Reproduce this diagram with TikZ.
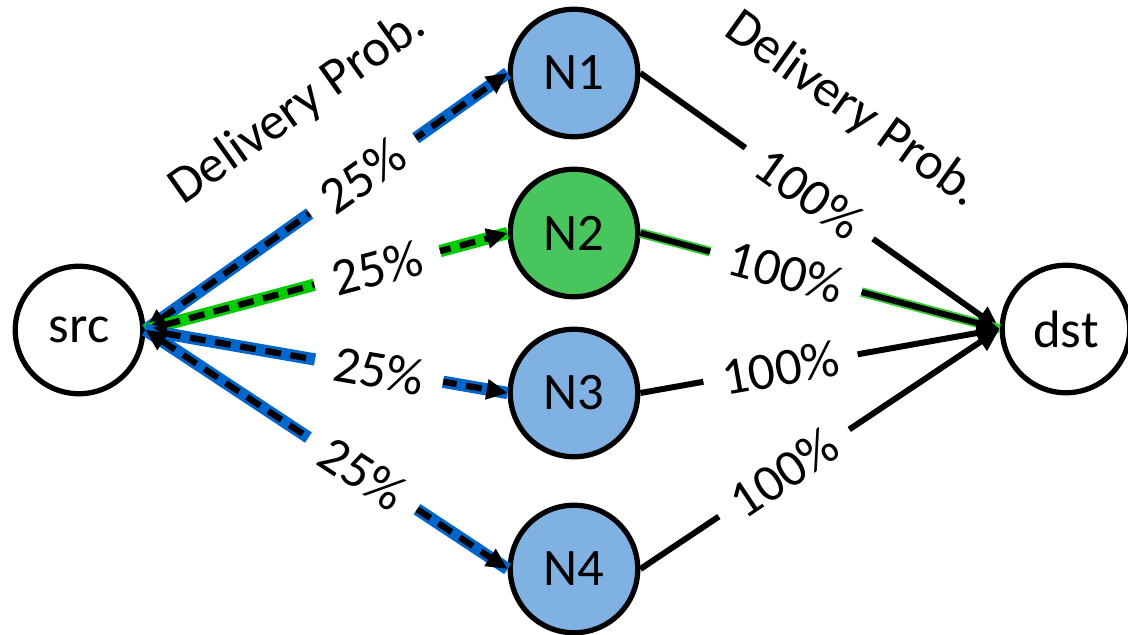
\documentclass[tikz,border=0pt]{standalone}
\usepackage{fontspec}
\setmainfont{Carlito}
\usetikzlibrary{arrows.meta}

\definecolor{nodeblue}{RGB}{127,178,227}
\definecolor{nodegreen}{RGB}{72,197,92}
\definecolor{pathblue}{RGB}{0,102,204}
\definecolor{pathgreen}{RGB}{0,204,0}
\definecolor{hopgreen}{RGB}{51,204,51}

\tikzset{
  peer/.style={circle,draw,line width=3pt,minimum size=2.55cm,inner sep=0pt},
  underlay/.style={draw=#1,line width=7pt},
  route/.style={line width=3.6pt,dash pattern=on 9pt off 5.5pt,
    {Triangle[length=12pt,width=11pt]}-{Triangle[length=12pt,width=11pt]}},
  hop/.style={line width=3.4pt,-{Triangle[length=13pt,width=12pt]}},
  prob/.style={fill=white,sloped,inner xsep=11pt,inner ysep=0pt},
}

\begin{document}
\begin{tikzpicture}
  \useasboundingbox (0,0) rectangle (22.56,12.7);
  \begin{scope}
    \fontsize{30}{34}\selectfont
    \node[peer] (src) at (1.58,6.10) {src};
    \node[peer] (dst) at (21.32,6.12) {dst};
    \node[peer,fill=nodeblue] (n1) at (11.48,11.24) {N1};
    \node[peer,fill=nodegreen] (n2) at (11.48,8.04) {N2};
    \node[peer,fill=nodeblue] (n3) at (11.48,4.84) {N3};
    \node[peer,fill=nodeblue] (n4) at (11.48,1.32) {N4};

    % first hop, src to the relays
    \draw[underlay=pathblue] (src.east) -- (n1.west);
    \draw[route] (src.east) -- (n1.west)
      node[prob,pos=0.6] {25\%}
      node[sloped,pos=0.57,above=1.0cm] {Delivery Prob.};
    \draw[underlay=pathgreen] (src.east) -- (n2.west);
    \draw[route] (src.east) -- (n2.west) node[prob,pos=0.64] {25\%};
    \draw[underlay=pathblue] (src.east) -- (n3.west);
    \draw[route] (src.east) -- (n3.west) node[prob,pos=0.645] {25\%};
    \draw[underlay=pathblue] (src.east) -- (n4.west);
    \draw[route] (src.east) -- (n4.west) node[prob,pos=0.6] {25\%};

    % second hop, relays to dst
    \draw[hop] (n1.east) -- (dst.west)
      node[prob,pos=0.47] {100\%}
      node[sloped,pos=0.44,above=1.0cm] {Delivery Prob.};
    \draw[underlay=hopgreen,line width=5.5pt] (n2.east) -- (dst.west);
    \draw[hop] (n2.east) -- (dst.west) node[prob,pos=0.405] {100\%};
    \draw[hop] (n3.east) -- (dst.west) node[prob,pos=0.39] {100\%};
    \draw[hop] (n4.east) -- (dst.west) node[prob,pos=0.4] {100\%};
  \end{scope}
\end{tikzpicture}
\end{document}
